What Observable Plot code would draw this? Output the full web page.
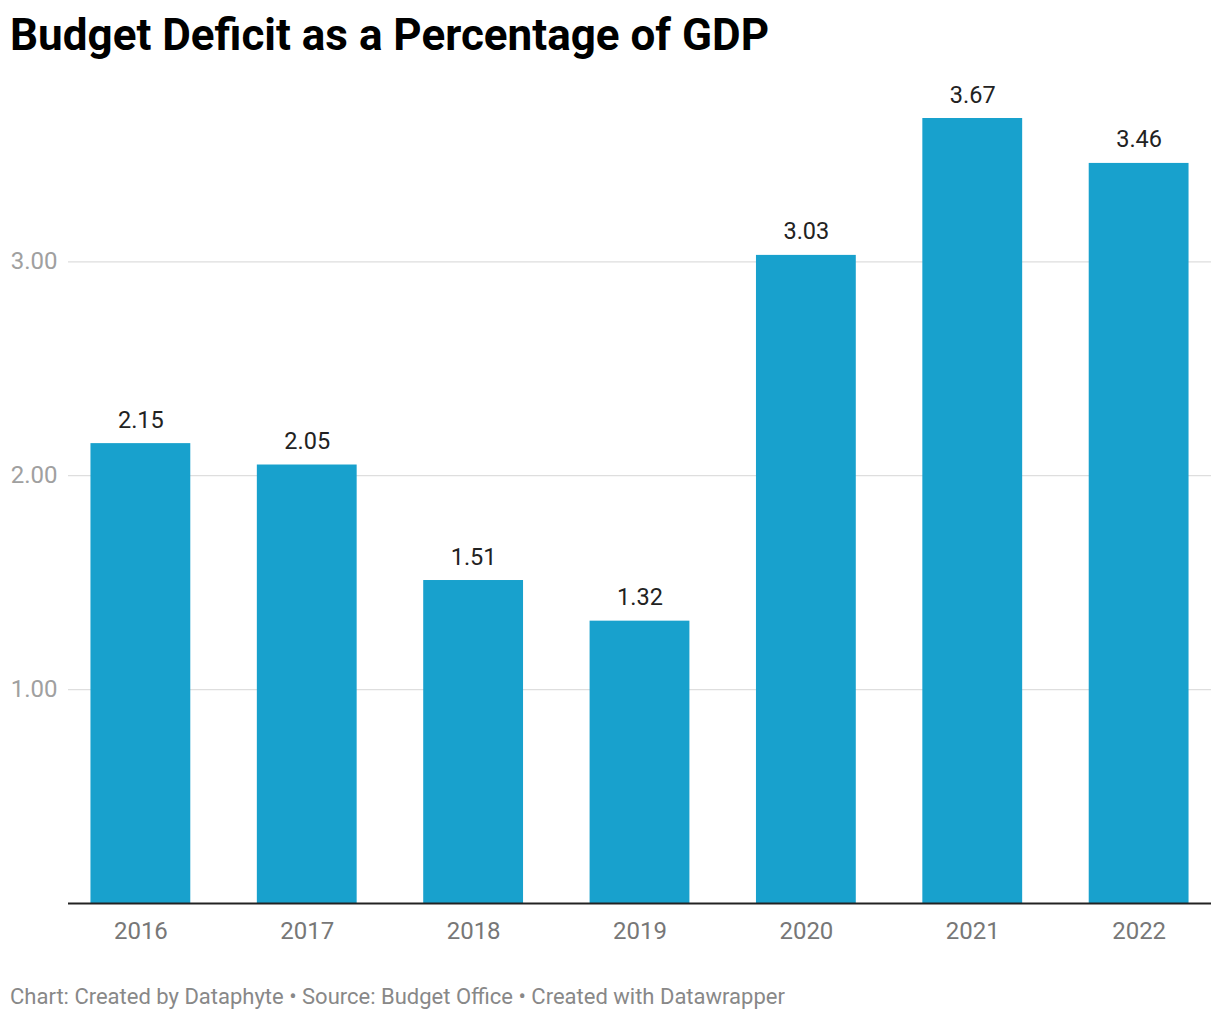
<!DOCTYPE html>
<html>
<head>
<meta charset="utf-8">
<script src="https://cdn.jsdelivr.net/npm/d3@7"></script>
<script src="https://cdn.jsdelivr.net/npm/@observablehq/plot@0.6"></script>
<style>
  html, body { margin: 0; padding: 0; background: #fff; }
  body { width: 1220px; height: 1020px; position: relative; overflow: hidden; font-family: Roboto, sans-serif; }
  #title { position: absolute; left: 10px; top: 13px; font-size: 44px; line-height: 44px; font-weight: 700; color: #000; white-space: nowrap; }
  #chart { position: absolute; left: 0; top: 62px; }
  #caption { position: absolute; left: 10px; top: 984px; font-size: 22px; line-height: 26px; color: #888; white-space: nowrap; }
</style>
</head>
<body>
<div id="title">Budget Deficit as a Percentage of GDP</div>
<div id="chart"></div>
<div id="caption">Chart: Created by Dataphyte • Source: Budget Office • Created with Datawrapper</div>
<script>
const years = ["2016", "2017", "2018", "2019", "2020", "2021", "2022"];
const deficits = [2.15, 2.05, 1.51, 1.32, 3.03, 3.67, 3.46];
const yTicks = [1, 2, 3];

const data = years.map((year, i) => ({ year, value: deficits[i] }));

const chart = Plot.plot({
  width: 1220,
  height: 898,
  marginLeft: 68,
  marginRight: 9,
  marginTop: 56,
  marginBottom: 57,
  style: { fontFamily: "Roboto, sans-serif", fontSize: "24px", background: "#fff" },
  x: { domain: years, paddingInner: 0.4, paddingOuter: 0.135, round: false, label: null },
  y: { domain: [0, 3.67], label: null },
  marks: [
    Plot.ruleY(yTicks, { stroke: "#dedede", strokeWidth: 1.2 }),
    Plot.axisY(yTicks, { tickSize: 0, tickPadding: 11, tickFormat: d => d.toFixed(2), fill: "#a0a0a0", label: null }),
    Plot.axisX({ tickSize: 0, tickPadding: 18, fill: "#777", label: null }),
    Plot.barY(data, { x: "year", y: "value", fill: "#18a1cd" }),
    Plot.ruleY([0], { stroke: "#222", strokeWidth: 2 }),
    Plot.text(data, { x: "year", y: "value", text: d => d.value.toFixed(2), dy: -16, lineAnchor: "bottom", fill: "#222", fontSize: 23.5 })
  ]
});
document.getElementById("chart").appendChild(chart);
</script>
</body>
</html>
